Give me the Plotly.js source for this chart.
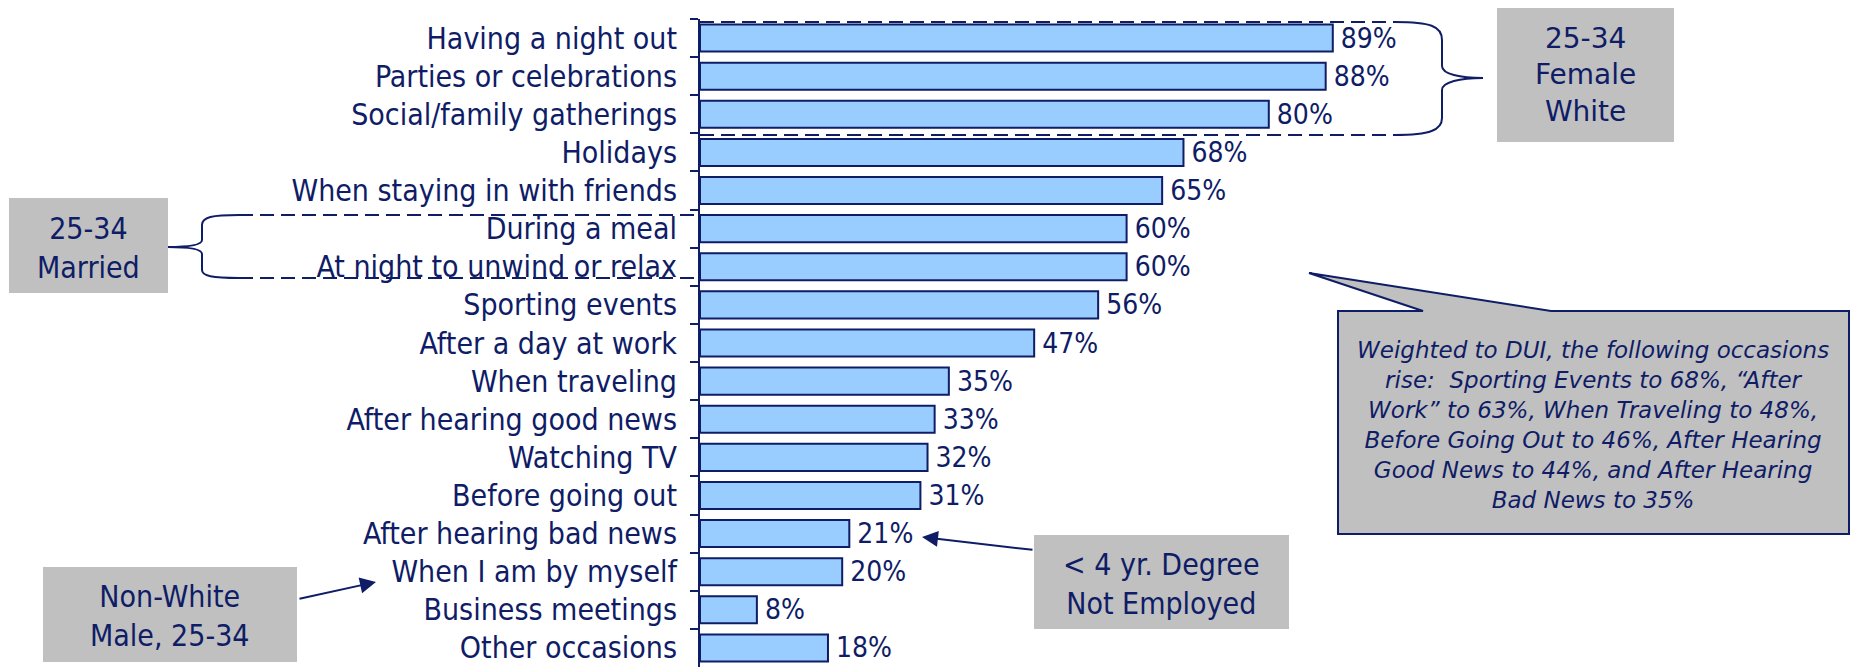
<!DOCTYPE html>
<html>
<head>
<meta charset="utf-8">
<script src="https://cdn.plot.ly/plotly-3.0.1.min.js"></script>
<style>html,body{margin:0;padding:0;background:#fff;}#chart{width:1852px;height:669px;}</style>
</head>
<body>
<div id="chart"></div>
<script>
const categories = [
  "Having a night out","Parties or celebrations","Social/family gatherings","Holidays",
  "When staying in with friends","During a meal","At night to unwind or relax","Sporting events",
  "After a day at work","When traveling","After hearing good news","Watching TV",
  "Before going out","After hearing bad news","When I am by myself","Business meetings","Other occasions"
];
const values = [89,88,80,68,65,60,60,56,47,35,33,32,31,21,20,8,18];
const valueLabels = values.map(v => v + "%");

const boxFemaleText = "25-34<br>Female<br>White";
const boxMarriedText = "25-34<br>Married";
const boxDegreeText = "< 4 yr. Degree<br>Not Employed";
const boxNonWhiteText = "Non-White<br>Male, 25-34";
const calloutText = "Weighted to DUI, the following occasions<br>rise:  Sporting Events to 68%, \u201cAfter<br>Work\u201d to 63%, When Traveling to 48%,<br>Before Going Out to 46%, After Hearing<br>Good News to 44%, and After Hearing<br>Bad News to 35%";

const NAVY = "#0f1c66";
const GRAY = "#c0c0c0";
const W = 1852, H = 669;
const ML = 700, MR = 0, MT = 19, MB = 2;
const PW = W - ML - MR, PH = H - MT - MB;
const px = x => (x - ML) / PW;
const py = y => (H - MB - y) / PH;
function path(cmds) {
  return cmds.map(c => {
    if (c[0] === 'Z') return 'Z';
    const pts = [];
    for (let i = 1; i < c.length; i += 2) pts.push(px(c[i]).toFixed(5) + ',' + py(c[i+1]).toFixed(5));
    return c[0] + pts.join(' ');
  }).join(' ');
}
function rect(x0, y0, x1, y1, extra) {
  return Object.assign({type:'rect', xref:'paper', yref:'paper', x0:px(x0), x1:px(x1), y0:py(y1), y1:py(y0),
    fillcolor:GRAY, line:{width:0}, layer:'above'}, extra||{});
}
function dline(x0, y0, x1, y1) {
  return {type:'line', xref:'paper', yref:'paper', x0:px(x0), y0:py(y0), x1:px(x1), y1:py(y1),
    line:{color:NAVY, width:2, dash:'14px,7px'}, layer:'above'};
}

const trace = {
  type:'bar', orientation:'h', y:categories, x:values,
  marker:{color:'#99ccff', line:{color:NAVY, width:2}},
  text:valueLabels, texttemplate:'\u2009%{text}', textposition:'outside', constraintext:'none', cliponaxis:false,
  textfont:{family:'DejaVu Sans Condensed, DejaVu Sans', size:28, color:NAVY},
  hoverinfo:'none'
};

const shapes = [
  dline(700, 22, 1395, 22),
  dline(700, 135, 1395, 135),
  {type:'path', xref:'paper', yref:'paper', layer:'above', line:{color:NAVY, width:2},
   path: path([['M',1395,22],['C',1430,22, 1442,26, 1442,40],['L',1442,66],['C',1442,74, 1460,78, 1483,78],
                ['C',1460,78, 1442,82, 1442,90],['L',1442,118],['C',1442,130, 1430,135, 1395,135]])},
  rect(1497, 8, 1674, 142),
  dline(239, 215, 700, 215),
  dline(239, 278, 700, 278),
  {type:'path', xref:'paper', yref:'paper', layer:'above', line:{color:NAVY, width:2},
   path: path([['M',239,215],['C',212,215, 202,217, 202,225],['L',202,240],['C',202,245, 190,247, 168,247],
                ['C',190,247, 202,249, 202,254],['L',202,270],['C',202,276, 212,278, 239,278]])},
  rect(9, 198, 168, 293),
  {type:'path', xref:'paper', yref:'paper', layer:'above', fillcolor:GRAY, line:{color:NAVY, width:2},
   path: path([['M',1338,311],['L',1423,311],['L',1309,273],['L',1551,311],['L',1849,311],['L',1849,534],['L',1338,534],['Z']])},
  rect(1034, 535, 1289, 629),
  rect(43, 567, 297, 662)
];

const boxFont = {family:'DejaVu Sans Condensed, DejaVu Sans', size:30, color:NAVY};
const annotations = [
  {xref:'paper', yref:'paper', x:px(1585.5), y:py(75), text:boxFemaleText, showarrow:false,
   xanchor:'center', yanchor:'middle', font:{family:'DejaVu Sans', size:28, color:NAVY}},
  {xref:'paper', yref:'paper', x:px(88.5), y:py(248), text:boxMarriedText, showarrow:false,
   xanchor:'center', yanchor:'middle', font:boxFont},
  {xref:'paper', yref:'paper', x:px(1161.5), y:py(584), text:boxDegreeText, showarrow:false,
   xanchor:'center', yanchor:'middle', font:boxFont},
  {xref:'paper', yref:'paper', x:px(170), y:py(616), text:boxNonWhiteText, showarrow:false,
   xanchor:'center', yanchor:'middle', font:boxFont},
  {xref:'paper', yref:'paper', x:px(1593), y:py(425), text:calloutText, showarrow:false,
   xanchor:'center', yanchor:'middle', font:{family:'DejaVu Sans', size:23, color:NAVY, style:'italic'}},
  {xref:'paper', yref:'paper', x:px(922), y:py(537), ax:112, ay:13, text:'', showarrow:true,
   arrowhead:2, arrowsize:1.6, arrowwidth:2, arrowcolor:NAVY, standoff:0},
  {xref:'paper', yref:'paper', x:px(376), y:py(582), ax:-78, ay:17, text:'', showarrow:true,
   arrowhead:2, arrowsize:1.6, arrowwidth:2, arrowcolor:NAVY, standoff:0}
];

const layout = {
  width:W, height:H, margin:{l:ML, r:MR, t:MT, b:MB, pad:0},
  paper_bgcolor:'#fff', plot_bgcolor:'#fff', showlegend:false, bargap:0.29,
  xaxis:{range:[0, PW/7.11], visible:false, fixedrange:true},
  yaxis:{type:'category', autorange:'reversed', showline:true, linecolor:NAVY, linewidth:2,
    ticks:'outside', tickson:'boundaries', ticklen:8, tickwidth:2, tickcolor:NAVY,
    ticklabelstandoff:15, showgrid:false, zeroline:false,
    tickfont:{family:'DejaVu Sans Condensed, DejaVu Sans', size:30, color:NAVY}},
  shapes:shapes, annotations:annotations
};

Plotly.newPlot('chart', [trace], layout, {staticPlot:true, displayModeBar:false});
</script>
</body>
</html>
